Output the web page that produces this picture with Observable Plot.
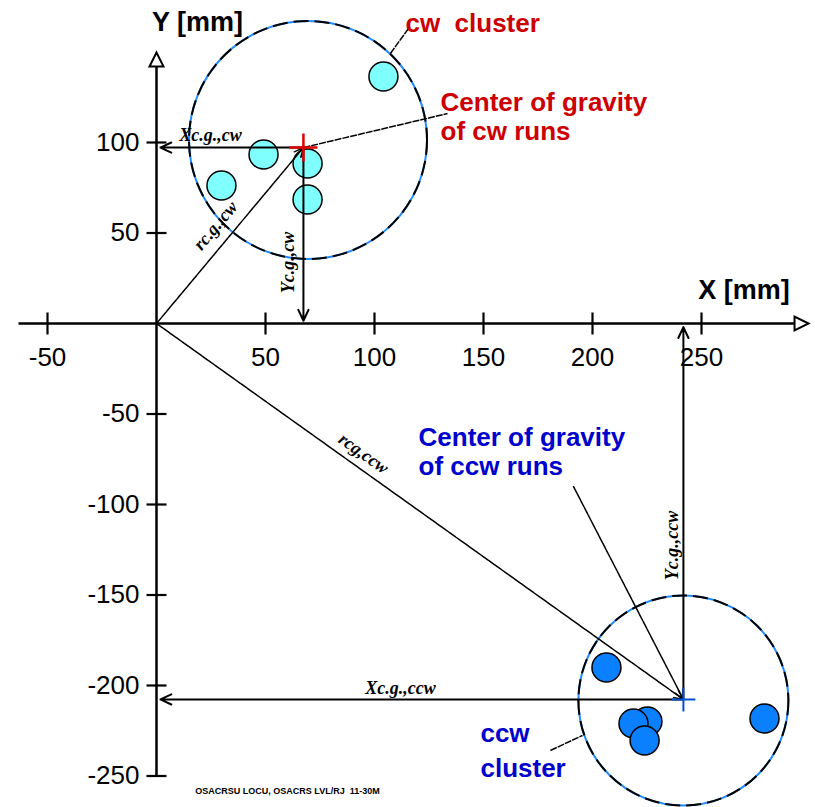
<!DOCTYPE html>
<html>
<head>
<meta charset="utf-8">
<script src="https://cdn.jsdelivr.net/npm/d3@7"></script>
<script src="https://cdn.jsdelivr.net/npm/@observablehq/plot@0.6"></script>
<style>
  html, body { margin: 0; padding: 0; background: #fff; }
  #chart svg { display: block; }
  g[aria-label="xtick-labels"] text, g[aria-label="ytick-labels"] text { letter-spacing: 2px; }
  g[aria-label="axis-titles"] text { letter-spacing: 3.5px; }
  g[aria-label="notes"] text { letter-spacing: 1.3px; }
  g[aria-label="footnote"] text { letter-spacing: 0.6px; }
</style>
</head>
<body>
<div id="chart"></div>
<script>
// ---- data ----
const xTicks = [-50, 50, 100, 150, 200, 250];
const xTickLabels = ["-50", "50", "100", "150", "200", "250"];
const yTicks = [100, 50, -50, -100, -150, -200, -250];
const yTickLabels = ["100", "50", "-50", "-100", "-150", "-200", "-250"];

// cw runs (mm)
const cwX = [104.1, 49.1, 29.8, 69.3, 69.3];
const cwY = [136.5, 93.4, 76.2, 88.4, 68.5];
// ccw runs (mm)
const ccwX = [206.4, 278.9, 225.2, 218.8, 223.9];
const ccwY = [-190.1, -218.2, -219.9, -221.0, -230.4];

// centres of gravity
const cgCw = {x: 67.4, y: 97.2};
const cgCcw = {x: 241.7, y: -207.7};
// cluster circle centres
const clusterCw = {x: 69.5, y: 101.4};
const clusterCcw = {x: 241.7, y: -208.3};

// axis extents
const xAxisStart = -63.3, xAxisEnd = 299.1;
const yAxisStart = -250, yAxisEnd = 149.7;

// annotation lines (mm)
const arrowsSolid = [
  {x1: cgCw.x, y1: cgCw.y, x2: 1.8, y2: cgCw.y},
  {x1: cgCw.x, y1: cgCw.y, x2: cgCw.x, y2: 1.5},
  {x1: cgCcw.x, y1: cgCcw.y, x2: 1.8, y2: cgCcw.y},
  {x1: cgCcw.x, y1: cgCcw.y, x2: cgCcw.x, y2: -2}
];
const arrowsThin = [
  {x1: 0, y1: 0, x2: cgCw.x, y2: cgCw.y},
  {x1: 0, y1: 0, x2: cgCcw.x, y2: cgCcw.y},
  {x1: 191.3, y1: -90.1, x2: cgCcw.x, y2: cgCcw.y}
];
const leaders = [
  {x1: 115.6, y1: 163.0, x2: 107.3, y2: 149.2},
  {x1: cgCw.x, y1: cgCw.y, x2: 133.5, y2: 116.0},
  {x1: 180.7, y1: -235.9, x2: 195.4, y2: -227.6}
];

// coloured notes
const noteText = ["cw  cluster", "Center of gravity", "of cw runs", "Center of gravity", "of ccw runs", "ccw", "cluster"];
const noteX = [114.2, 130.3, 130.3, 120.2, 120.2, 148.6, 148.6];
const noteY = [165.7, 122.1, 106.1, -63.0, -79.0, -226.5, -245.9];
const noteColor = ["#cc0000", "#cc0000", "#cc0000", "#0000cc", "#0000cc", "#0000cc", "#0000cc"];

// small symbol labels
const symText = ["Xc.g.,cw", "rc.g.,cw", "Yc.g.,cw", "rcg,ccw", "Yc.g.,ccw", "Xc.g.,ccw"];
const symX = [24.8, 27.1, 60.6, 95.0, 236.7, 111.9];
const symY = [103.9, 54.1, 33.7, -71.8, -122.7, -201.7];
const symRot = [0, -50, -90, 35.7, -90, 0];

const axisTitles = ["Y [mm]", "X [mm]"];
const axisTitleX = [18.8, 269.5];
const axisTitleY = [166.3, 18.2];

const footnote = ["OSACRSU LOCU, OSACRS LVL/RJ  11-30M"];
const footX = [60.1], footY = [-258.6];

// ---- custom symbols ----
const sym = (f) => ({draw(ctx, size) { const r = Math.sqrt(size / Math.PI); f(ctx, r); }});
const vTick = sym((c, r) => { c.moveTo(0, -r); c.lineTo(0, r); });
const hTick = sym((c, r) => { c.moveTo(-r, 0); c.lineTo(r, 0); });
const plusSym = sym((c, r) => { c.moveTo(-r, 0); c.lineTo(r, 0); c.moveTo(0, -r); c.lineTo(0, r); });
const triRight = sym((c, r) => { c.moveTo(0, 0); c.lineTo(-2 * r, -r); c.lineTo(-2 * r, r); c.closePath(); });
const triUp = sym((c, r) => { c.moveTo(0, 0); c.lineTo(-r, 2 * r); c.lineTo(r, 2 * r); c.closePath(); });

const idx = (a) => a.map((_, i) => i);
const sans = "Liberation Sans, Arial, Helvetica, sans-serif";

const chart = Plot.plot({
  width: 815,
  height: 807,
  margin: 0,
  x: {domain: [0, 250], range: [156, 701], axis: null},
  y: {domain: [0, 100], range: [323, 142], axis: null},
  style: {background: "#fff"},
  marks: [
    // cluster circles
    Plot.dot([clusterCw], {x: "x", y: "y", r: 119, fill: "none", stroke: "#1e8cff", strokeWidth: 2}),
    Plot.dot([clusterCw], {x: "x", y: "y", r: 119, fill: "none", stroke: "#000", strokeWidth: 2, strokeDasharray: "15,6"}),
    Plot.dot([clusterCcw], {x: "x", y: "y", r: 105, fill: "none", stroke: "#1e8cff", strokeWidth: 2}),
    Plot.dot([clusterCcw], {x: "x", y: "y", r: 105, fill: "none", stroke: "#000", strokeWidth: 2, strokeDasharray: "15,6"}),
    // runs
    Plot.dot(idx(cwX), {x: (i) => cwX[i], y: (i) => cwY[i], r: 14.5, fill: "#80ffff", stroke: "#000", strokeWidth: 1.5}),
    Plot.dot(idx(ccwX), {x: (i) => ccwX[i], y: (i) => ccwY[i], r: 14.5, fill: "#0a80ff", stroke: "#000", strokeWidth: 1.5}),
    // axes
    Plot.link([{x1: xAxisStart, y1: 0, x2: xAxisEnd - 6, y2: 0}], {x1: "x1", y1: "y1", x2: "x2", y2: "y2", stroke: "#000", strokeWidth: 2.5}),
    Plot.link([{x1: 0, y1: yAxisStart, x2: 0, y2: yAxisEnd - 4}], {x1: "x1", y1: "y1", x2: "x2", y2: "y2", stroke: "#000", strokeWidth: 2.5}),
    Plot.dot(xTicks, {x: (d) => d, y: 0, symbol: vTick, r: 11, fill: "none", stroke: "#000", strokeWidth: 2.2}),
    Plot.dot(yTicks, {x: 0, y: (d) => d, symbol: hTick, r: 10, fill: "none", stroke: "#000", strokeWidth: 2.2}),
    Plot.dot([{x: xAxisEnd, y: 0}], {x: "x", y: "y", symbol: triRight, r: 7, fill: "#fff", stroke: "#000", strokeWidth: 2}),
    Plot.dot([{x: 0, y: yAxisEnd}], {x: "x", y: "y", symbol: triUp, r: 7, fill: "#fff", stroke: "#000", strokeWidth: 2}),
    // annotation lines
    Plot.arrow(arrowsSolid, {x1: "x1", y1: "y1", x2: "x2", y2: "y2", stroke: "#000", strokeWidth: 2, headLength: 9, headAngle: 50}),
    Plot.arrow(arrowsThin, {x1: "x1", y1: "y1", x2: "x2", y2: "y2", stroke: "#000", strokeWidth: 1.5, strokeDasharray: "7,1", headLength: 10, headAngle: 50}),
    Plot.link(leaders, {x1: "x1", y1: "y1", x2: "x2", y2: "y2", stroke: "#000", strokeWidth: 1.5, strokeDasharray: "7,1"}),
    // centres of gravity
    Plot.dot([cgCw], {x: "x", y: "y", symbol: plusSym, r: 14, fill: "none", stroke: "#e00000", strokeWidth: 2.5}),
    Plot.dot([cgCcw], {x: "x", y: "y", symbol: plusSym, r: 12, fill: "none", stroke: "#0050d0", strokeWidth: 2}),
    // tick labels
    Plot.text(idx(xTicks), {x: (i) => xTicks[i], y: 0, text: (i) => xTickLabels[i], dy: 34, lineAnchor: "middle", fontSize: 26, fontFamily: sans, fill: "#000", ariaLabel: "xtick-labels"}),
    Plot.text(idx(yTicks), {x: 0, y: (i) => yTicks[i], text: (i) => yTickLabels[i], dx: -17, textAnchor: "end", lineAnchor: "middle", fontSize: 26, fontFamily: sans, fill: "#000", ariaLabel: "ytick-labels"}),
    // axis titles
    Plot.text(idx(axisTitles), {x: (i) => axisTitleX[i], y: (i) => axisTitleY[i], text: (i) => axisTitles[i], lineAnchor: "middle", fontSize: 27, fontWeight: "bold", fontFamily: sans, fill: "#000", ariaLabel: "axis-titles"}),
    // coloured notes
    Plot.text(idx(noteText), {x: (i) => noteX[i], y: (i) => noteY[i], text: (i) => noteText[i], fill: (i) => noteColor[i], textAnchor: "start", lineAnchor: "middle", fontSize: 26, fontWeight: "bold", fontFamily: sans, ariaLabel: "notes"}),
    // symbol labels
    Plot.text(idx(symText), {x: (i) => symX[i], y: (i) => symY[i], text: (i) => symText[i], rotate: (i) => symRot[i], lineAnchor: "middle", fontSize: 18, fontStyle: "italic", fontWeight: "bold", fontFamily: "Liberation Serif, Times New Roman, serif", fill: "#000", ariaLabel: "sym-labels"}),
    // footnote
    Plot.text(idx(footnote), {x: (i) => footX[i], y: (i) => footY[i], text: (i) => footnote[i], lineAnchor: "middle", fontSize: 9, fontWeight: "bold", fontFamily: sans, fill: "#000", ariaLabel: "footnote"})
  ]
});
document.getElementById("chart").appendChild(chart);
</script>
</body>
</html>
